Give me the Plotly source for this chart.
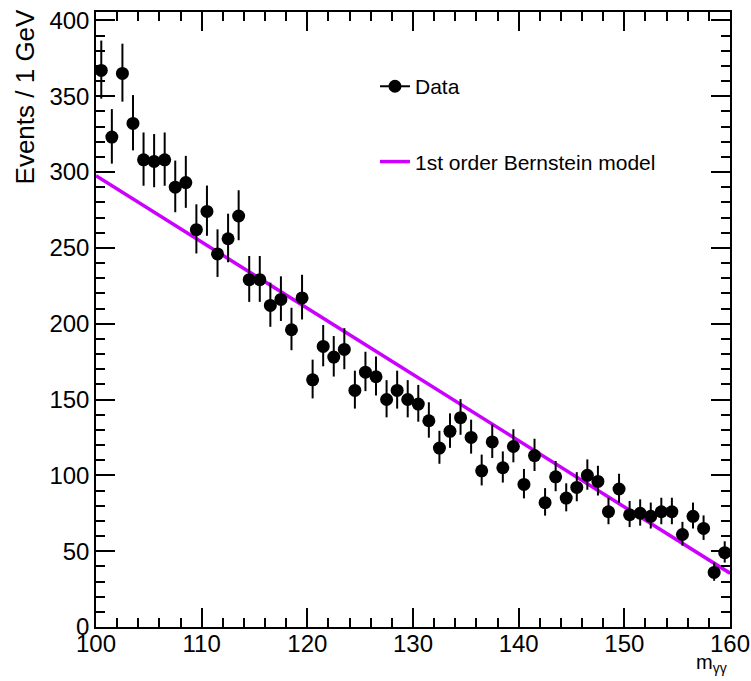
import numpy as np
import plotly.graph_objects as go

# Diphoton invariant mass spectrum, 1 GeV bins from 100 to 160 GeV
bin_centers = [100.5 + i for i in range(60)]
events = [
    367, 323, 365, 332, 308, 307, 308, 290, 293, 262,
    274, 246, 256, 271, 229, 229, 212, 216, 196, 217,
    163, 185, 178, 183, 156, 168, 165, 150, 156, 150,
    147, 136, 118, 129, 138, 125, 103, 122, 105, 119,
    94, 113, 82, 99, 85, 92, 100, 96, 76, 91,
    74, 75, 73, 76, 76, 61, 73, 65, 36, 49,
]

# Linear (1st order Bernstein) background model, evaluated at the range edges
model_x = [100, 160]
model_y = [297.5, 35.5]

counts = np.array(events, dtype=float)
err_up = np.sqrt(counts + 0.25) + 0.5
err_dn = np.sqrt(counts + 0.25) - 0.5

MODEL_COLOR = "#CC00FF"
FONT = "Liberation Sans, Arial, Helvetica, sans-serif"

fig = go.Figure()

fig.add_trace(go.Scatter(
    x=model_x, y=model_y, mode="lines",
    line=dict(color=MODEL_COLOR, width=3.5),
    name="1st order Bernstein model", showlegend=False,
    hoverinfo="skip",
))

fig.add_trace(go.Scatter(
    x=bin_centers, y=events, mode="markers",
    marker=dict(color="black", size=13, symbol="circle"),
    error_y=dict(type="data", symmetric=False, array=err_up, arrayminus=err_dn,
                 color="black", thickness=2, width=0),
    name="Data", showlegend=False,
))

# Legend entries
fig.add_trace(go.Scatter(
    x=[None], y=[None], mode="lines+markers",
    line=dict(color="black", width=2),
    marker=dict(color="black", size=13),
    name="Data", legendgroup="a",
))
fig.add_trace(go.Scatter(
    x=[None], y=[None], mode="lines",
    line=dict(color=MODEL_COLOR, width=3.5),
    name="1st order Bernstein model", legendgroup="b",
))

axis_common = dict(
    showgrid=False, zeroline=False, showline=True, linecolor="black",
    linewidth=1.5, mirror="ticks", ticks="inside", tickcolor="black",
    tickwidth=1.5, ticklen=19, automargin=False,
    tickfont=dict(family=FONT, size=24, color="black"),
)

fig.update_xaxes(
    range=[100, 160], tick0=100, dtick=10,
    ticklabeloverflow="allow", ticklabelstandoff=-6,
    minor=dict(ticks="inside", dtick=2, ticklen=9, tickcolor="black", tickwidth=1.5),
    **axis_common,
)
fig.update_yaxes(
    range=[0, 405.5], tick0=0, dtick=50,
    minor=dict(ticks="inside", dtick=10, ticklen=9, tickcolor="black", tickwidth=1.5),
    **axis_common,
)

fig.add_annotation(
    text="Events / 1 GeV", textangle=-90, xref="paper", yref="paper",
    x=-0.086, y=1.0098, xanchor="right", yanchor="top", showarrow=False,
    font=dict(family=FONT, size=26, color="black"),
)
fig.add_annotation(
    text="m<sub>γγ</sub>", xref="paper", yref="paper",
    x=0.998, y=-0.036, xanchor="right", yanchor="top", showarrow=False,
    font=dict(family=FONT, size=20, color="black"),
)

fig.update_layout(
    width=751, height=681,
    margin=dict(l=96, r=21, t=12, b=54, autoexpand=False),
    paper_bgcolor="white", plot_bgcolor="white",
    showlegend=True,
    legend=dict(
        x=0.44, y=0.912, xanchor="left", yanchor="top",
        bgcolor="rgba(0,0,0,0)", borderwidth=0,
        font=dict(family=FONT, size=21, color="black"),
        tracegroupgap=45, itemwidth=30,
    ),
)

fig.write_html("out.html")
